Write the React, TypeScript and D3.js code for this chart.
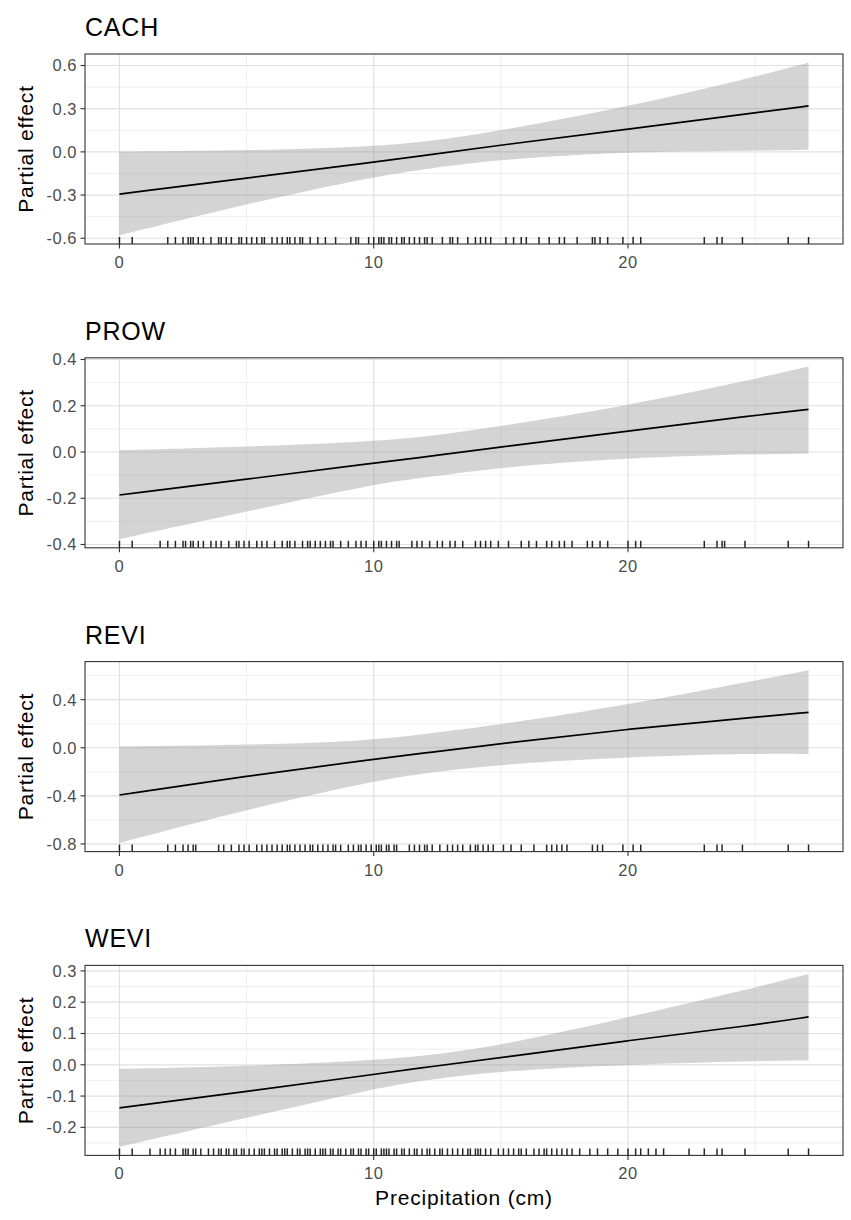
import React from 'react';
import * as d3 from 'd3';

const xs = [0, 5, 10, 12.2, 15, 20, 25, 27.1];

const cachFit = [-0.293, -0.182, -0.072, -0.02, 0.048, 0.157, 0.272, 0.319];
const cachLo = [-0.58, -0.36, -0.171, -0.114, -0.051, 0.002, 0.009, 0.014];
const cachHi = [0.002, 0.009, 0.037, 0.072, 0.148, 0.314, 0.522, 0.62];

const prowFit = [-0.186, -0.118, -0.048, -0.019, 0.022, 0.09, 0.159, 0.184];
const prowLo = [-0.377, -0.258, -0.138, -0.109, -0.065, -0.025, -0.009, -0.007];
const prowHi = [0.007, 0.022, 0.046, 0.068, 0.112, 0.2, 0.316, 0.37];

const reviFit = [-0.393, -0.234, -0.095, -0.039, 0.036, 0.156, 0.254, 0.295];
const reviLo = [-0.792, -0.513, -0.276, -0.206, -0.137, -0.075, -0.047, -0.053];
const reviHi = [0.011, 0.022, 0.059, 0.12, 0.192, 0.357, 0.56, 0.645];

const weviFit = [-0.138, -0.085, -0.031, -0.006, 0.022, 0.078, 0.127, 0.153];
const weviLo = [-0.262, -0.17, -0.076, -0.047, -0.02, 0.001, 0.012, 0.014];
const weviHi = [-0.013, -0.005, 0.014, 0.03, 0.062, 0.151, 0.247, 0.29];

// rug (observed precipitation values)
const cachRug = [0, 0.5, 1.9, 2.2, 2.5, 2.7, 2.8, 2.9, 3.1, 3.3, 3.6, 3.9, 4.0, 4.2, 4.4, 4.7, 4.8, 5.0, 5.2, 5.4, 5.6,
  5.7, 6.0, 6.2, 6.4, 6.6, 6.7, 6.9, 7.1, 7.2, 7.5, 7.8, 8.1, 8.5, 9.1, 9.3, 9.4, 9.8, 10.0, 10.2, 10.3, 10.4, 10.6,
  10.7, 10.9, 11.1, 11.2, 11.4, 11.6, 11.8, 12.0, 12.1, 12.3, 12.7, 13.0, 13.1, 13.3, 13.7, 14.0, 14.2, 14.4, 14.6,
  15.2, 15.5, 15.8, 16.0, 16.5, 16.9, 17.3, 17.5, 18.0, 18.6, 18.7, 18.9, 19.2, 19.8, 20.2, 20.5, 23.0, 23.5, 23.7,
  24.5, 26.3, 27.1];
const prowRug = [0, 0.5, 1.6, 1.9, 2.2, 2.5, 2.6, 2.8, 2.9, 3.1, 3.3, 3.6, 3.8, 4.0, 4.3, 4.6, 4.7, 4.9, 5.1, 5.4, 5.6,
  5.8, 6.1, 6.4, 6.6, 6.7, 6.9, 7.2, 7.4, 7.5, 7.7, 7.9, 8.1, 8.3, 8.4, 8.7, 9.0, 9.3, 9.5, 9.7, 10.0, 10.2, 10.3, 10.5,
  10.7, 10.9, 11.0, 11.5, 11.7, 11.9, 12.2, 12.5, 12.7, 13.0, 13.2, 13.5, 14.0, 14.2, 14.4, 14.6, 14.9, 15.3, 15.8,
  16.1, 16.4, 16.8, 17.0, 17.3, 17.5, 17.8, 18.4, 18.6, 18.9, 19.2, 20.0, 20.3, 20.5, 23.0, 23.5, 23.7, 23.8, 24.6,
  26.3, 27.1];
const reviRug = [0, 0.5, 1.9, 2.2, 2.5, 2.7, 2.9, 3.0, 3.9, 4.1, 4.4, 4.7, 4.9, 5.1, 5.4, 5.6, 5.8, 6.0, 6.2, 6.4, 6.6,
  6.7, 6.9, 7.1, 7.3, 7.5, 7.6, 7.8, 8.0, 8.2, 8.4, 8.5, 8.7, 9.0, 9.2, 9.4, 9.5, 9.7, 9.9, 10.1, 10.2, 10.3, 10.5,
  10.6, 10.8, 10.9, 11.4, 11.6, 11.8, 12.0, 12.1, 12.3, 12.6, 12.9, 13.1, 13.3, 13.5, 13.8, 14.0, 14.1, 14.3, 14.5,
  14.7, 15.1, 15.4, 15.8, 16.3, 16.8, 17.0, 17.2, 17.4, 17.6, 18.6, 18.8, 19.0, 19.8, 20.2, 20.5, 23.0, 23.5, 23.7,
  24.5, 26.3, 27.1];
const weviRug = [0, 0.5, 1.2, 1.6, 1.8, 2.0, 2.2, 2.5, 2.6, 2.7, 2.9, 3.0, 3.2, 3.5, 3.7, 3.9, 4.0, 4.2, 4.3, 4.5, 4.6,
  4.8, 4.9, 5.1, 5.3, 5.5, 5.6, 5.7, 5.9, 6.1, 6.2, 6.4, 6.5, 6.6, 6.8, 7.0, 7.1, 7.3, 7.4, 7.5, 7.7, 7.9, 8.0, 8.1,
  8.3, 8.4, 8.6, 8.7, 8.9, 9.1, 9.2, 9.4, 9.5, 9.7, 9.8, 10.0, 10.1, 10.3, 10.4, 10.5, 10.6, 10.8, 10.9, 11.1, 11.2,
  11.4, 11.6, 11.7, 11.9, 12.1, 12.2, 12.4, 12.6, 12.7, 12.9, 13.1, 13.3, 13.5, 13.7, 13.8, 14.0, 14.1, 14.2, 14.4,
  14.6, 14.9, 15.1, 15.3, 15.5, 15.7, 15.8, 16.0, 16.3, 16.5, 16.7, 16.8, 17.0, 17.2, 17.4, 17.6, 17.8, 18.1, 18.5,
  18.8, 19.2, 19.6, 20.0, 20.3, 20.5, 20.8, 21.1, 21.4, 22.4, 23.0, 23.5, 23.7, 24.6, 26.3, 27.1];

const panelNames = ['CACH', 'PROW', 'REVI', 'WEVI'];
const fits = [cachFit, prowFit, reviFit, weviFit];
const lows = [cachLo, prowLo, reviLo, weviLo];
const highs = [cachHi, prowHi, reviHi, weviHi];
const rugs = [cachRug, prowRug, reviRug, weviRug];
const yTicks = [
  [-0.6, -0.3, 0, 0.3, 0.6],
  [-0.4, -0.2, 0, 0.2, 0.4],
  [-0.8, -0.4, 0, 0.4],
  [-0.2, -0.1, 0, 0.1, 0.2, 0.3],
];
const xTicks = [0, 10, 20];
const xMinor = [5, 15, 25];

const W = 851;
const H = 1220;
const left = 85;
const right = 843;
const firstTop = 54;
const pitch = 303.8;
const panelH = 190;
const font = '"Liberation Sans", Arial, sans-serif';

const expand = (lo: number, hi: number): [number, number] => {
  const d = (hi - lo) * 0.05;
  return [lo - d, hi + d];
};

const fmt = (v: number) => (v < 0 ? '-' : '') + Math.abs(v).toFixed(1);

const Panel: React.FC<{ i: number }> = ({ i }) => {
  const top = firstTop + i * pitch;
  const bottom = top + panelH;
  const x = d3.scaleLinear().domain(expand(0, d3.max(xs)!)).range([left, right]);
  const lo = d3.min(lows[i])!;
  const hi = d3.max(highs[i])!;
  const y = d3.scaleLinear().domain(expand(lo, hi)).range([bottom, top]);

  const rows = xs.map((v, k) => ({ x: v, fit: fits[i][k], lo: lows[i][k], hi: highs[i][k] }));
  const area = d3.area<typeof rows[0]>()
    .x(d => x(d.x)).y0(d => y(d.lo)).y1(d => y(d.hi))
    .curve(d3.curveBasis);
  const line = d3.line<typeof rows[0]>()
    .x(d => x(d.x)).y(d => y(d.fit))
    .curve(d3.curveBasis);

  const ticks = yTicks[i];
  const step = ticks[1] - ticks[0];
  const yMinor = [ticks[0] - step / 2, ...ticks.map(t => t + step / 2)]
    .filter(v => v > y.domain()[0] && v < y.domain()[1]);

  return (
    <g>
      <text x={left} y={top - 18} fontSize={25} letterSpacing={0.8} fontFamily={font} fill="#000">{panelNames[i]}</text>
      <rect x={left} y={top} width={right - left} height={panelH} fill="#fff" />
      {yMinor.map(v => (
        <line key={'ym' + v} x1={left} x2={right} y1={y(v)} y2={y(v)} stroke="#ebebeb" strokeWidth={0.8} />
      ))}
      {xMinor.map(v => (
        <line key={'xm' + v} x1={x(v)} x2={x(v)} y1={top} y2={bottom} stroke="#ebebeb" strokeWidth={0.8} />
      ))}
      {ticks.map(v => (
        <line key={'yg' + v} x1={left} x2={right} y1={y(v)} y2={y(v)} stroke="#e0e0e0" strokeWidth={1.2} />
      ))}
      {xTicks.map(v => (
        <line key={'xg' + v} x1={x(v)} x2={x(v)} y1={top} y2={bottom} stroke="#e0e0e0" strokeWidth={1.2} />
      ))}
      <path d={area(rows)!} fill="#999" fillOpacity={0.42} />
      <path d={line(rows)!} fill="none" stroke="#000" strokeWidth={1.7} />
      {rugs[i].map((v, k) => (
        <line key={'r' + k} x1={x(v)} x2={x(v)} y1={bottom} y2={bottom - 7} stroke="#000" strokeWidth={1.5} strokeOpacity={0.85} />
      ))}
      <rect x={left} y={top} width={right - left} height={panelH} fill="none" stroke="#333" strokeWidth={1.1} />
      {ticks.map(v => (
        <g key={'yt' + v}>
          <line x1={left - 4.5} x2={left} y1={y(v)} y2={y(v)} stroke="#333" strokeWidth={1.1} />
          <text x={left - 8} y={y(v)} dy="0.36em" textAnchor="end" fontSize={16.5} letterSpacing={0.5} fontFamily={font} fill="#4d4d4d">{fmt(v)}</text>
        </g>
      ))}
      {xTicks.map(v => (
        <g key={'xt' + v}>
          <line x1={x(v)} x2={x(v)} y1={bottom} y2={bottom + 4.5} stroke="#333" strokeWidth={1.1} />
          <text x={x(v)} y={bottom + 24} textAnchor="middle" fontSize={16.5} letterSpacing={0.5} fontFamily={font} fill="#4d4d4d">{v}</text>
        </g>
      ))}
      <text transform={`translate(33,${(top + bottom) / 2}) rotate(-90)`} textAnchor="middle" fontSize={21} letterSpacing={0.8} fontFamily={font} fill="#000">
        Partial effect
      </text>
    </g>
  );
};

export default function App() {
  return (
    <svg width={W} height={H} style={{ position: 'absolute', left: 0, top: 0, background: '#fff' }}>
      <rect width={W} height={H} fill="#fff" />
      {panelNames.map((_, i) => <Panel key={i} i={i} />)}
      <text x={(left + right) / 2} y={1205} textAnchor="middle" fontSize={21} letterSpacing={0.8} fontFamily={font} fill="#000">
        Precipitation (cm)
      </text>
    </svg>
  );
}
